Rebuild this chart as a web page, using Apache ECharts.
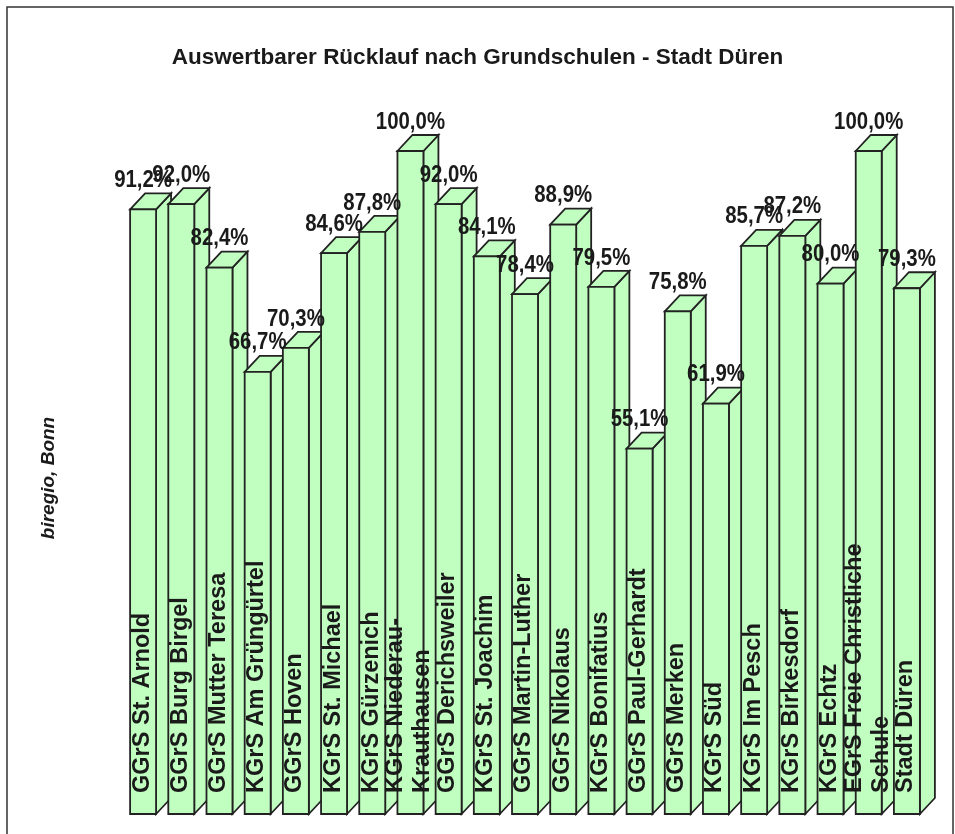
<!DOCTYPE html>
<html>
<head>
<meta charset="utf-8">
<script src="https://cdn.jsdelivr.net/npm/echarts@6/dist/echarts.min.js"></script>
<style>html,body{margin:0;padding:0;background:#fff;}#chart{width:955px;height:834px;}</style>
</head>
<body>
<div id="chart"></div>
<script>
const categories = [
  'GGrS St. Arnold', 'GGrS Burg Birgel', 'GGrS Mutter Teresa', 'KGrS Am Grüngürtel',
  'GGrS Hoven', 'KGrS St. Michael', 'KGrS Gürzenich', 'KGrS Niederau-\nKrauthausen',
  'GGrS Derichsweiler', 'KGrS St. Joachim', 'GGrS Martin-Luther', 'GGrS Nikolaus',
  'KGrS Bonifatius', 'GGrS Paul-Gerhardt', 'GGrS Merken', 'KGrS Süd', 'KGrS Im Pesch',
  'KGrS Birkesdorf', 'KGrS Echtz', 'EGrS Freie Christliche\nSchule', 'Stadt Düren'
];
const values = [91.2, 92.0, 82.4, 66.7, 70.3, 84.6, 87.8, 100.0, 92.0, 84.1, 78.4, 88.9,
  79.5, 55.1, 75.8, 61.9, 85.7, 87.2, 80.0, 100.0, 79.3];
const titleText = 'Auswertbarer Rücklauf nach Grundschulen - Stadt Düren';
const sideNote = 'biregio, Bonn';

const FILL = '#c0ffc0';
const STROKE = '#222222';
const DX = 15, DY = 16;

function fmt(v) { return v.toFixed(1).replace('.', ',') + '%'; }

function renderItem(params, api) {
  const i = api.value(0);
  const v = api.value(1);
  const base = api.coord([i, 0]);
  const top = api.coord([i, v]);
  const bw = api.size([1, 0])[0] * 0.68;
  const cx = top[0];
  const x0 = cx - bw / 2, x1 = cx + bw / 2;
  const yT = top[1], yB = base[1];
  const shapeStyle = { fill: FILL, stroke: STROKE, lineWidth: 1.8, lineJoin: 'miter' };
  return {
    type: 'group',
    children: [
      { type: 'polygon', shape: { points: [[x1, yB], [x1 + DX, yB - DY], [x1 + DX, yT - DY], [x1, yT]] }, style: shapeStyle },
      { type: 'polygon', shape: { points: [[x0, yT], [x0 + DX, yT - DY], [x1 + DX, yT - DY], [x1, yT]] }, style: shapeStyle },
      { type: 'rect', shape: { x: x0, y: yT, width: bw, height: yB - yT }, style: shapeStyle },
      {
        type: 'text', x: cx - 1, y: yB - 21, rotation: Math.PI / 2, z2: 50,
        style: {
          text: categories[i], align: 'left', verticalAlign: 'middle',
          font: 'bold 23.5px "Liberation Sans", Arial, sans-serif', fill: '#1a1a1a', lineHeight: 27
        }
      },
      {
        type: 'text', x: cx, y: yT - DY - 1, z2: 60, scaleX: 0.85,
        style: {
          text: fmt(values[i]), align: 'center', verticalAlign: 'bottom',
          font: 'bold 24px "Liberation Sans", Arial, sans-serif', fill: '#1a1a1a'
        }
      }
    ]
  };
}

const chart = echarts.init(document.getElementById('chart'), null, { renderer: 'canvas' });
chart.setOption({
  animation: false,
  backgroundColor: '#ffffff',
  title: {
    text: titleText, left: 'center', top: 41,
    textStyle: { fontFamily: '"Liberation Sans", Arial, sans-serif', fontWeight: 'bold', fontSize: 22.5, color: '#1a1a1a' }
  },
  grid: { left: 124, width: 802, top: 151, bottom: 20 },
  xAxis: {
    type: 'category', data: categories,
    axisLine: { show: false }, axisTick: { show: false }, axisLabel: { show: false }, splitLine: { show: false }
  },
  yAxis: {
    type: 'value', min: 0, max: 100,
    axisLine: { show: false }, axisTick: { show: false }, axisLabel: { show: false }, splitLine: { show: false }
  },
  graphic: [
    { type: 'rect', shape: { x: 7, y: 7, width: 946, height: 840 }, style: { fill: 'none', stroke: '#333', lineWidth: 1.5 }, z: -1 },
    {
      type: 'text', x: 49, y: 478, rotation: Math.PI / 2,
      style: { text: sideNote, align: 'center', verticalAlign: 'middle', font: 'italic bold 19px "Liberation Sans", Arial, sans-serif', fill: '#1a1a1a' }
    }
  ],
  series: [{
    type: 'custom',
    renderItem: renderItem,
    data: values.map((v, i) => [i, v]),
    clip: false
  }]
});
</script>
</body>
</html>
